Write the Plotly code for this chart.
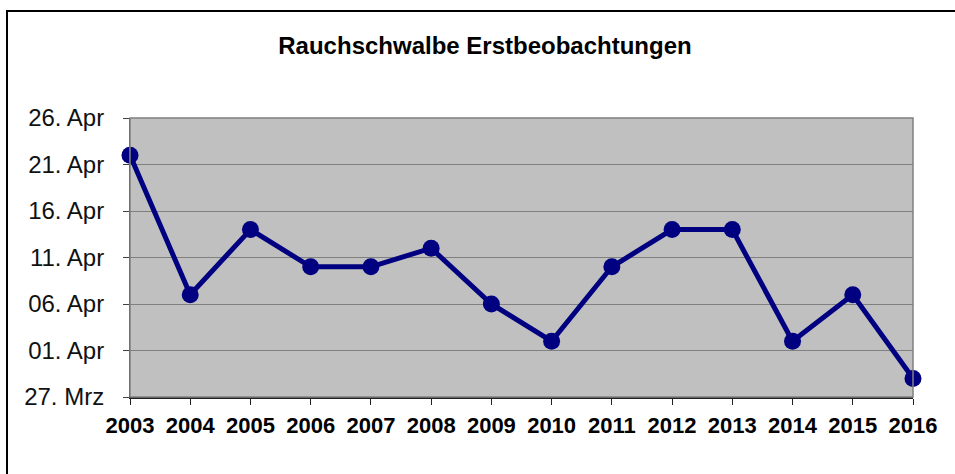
import plotly.graph_objects as go

years = [2003, 2004, 2005, 2006, 2007, 2008, 2009, 2010, 2011, 2012, 2013, 2014, 2015, 2016]
first_seen = ["04-22", "04-07", "04-14", "04-10", "04-10", "04-12", "04-06",
              "04-02", "04-10", "04-14", "04-14", "04-02", "04-07", "03-29"]
y_tick_days = ["03-27", "04-01", "04-06", "04-11", "04-16", "04-21", "04-26"]
y_tick_labels = ["27. Mrz", "01. Apr", "06. Apr", "11. Apr", "16. Apr", "21. Apr", "26. Apr"]
title_text = "Rauchschwalbe Erstbeobachtungen"

ref_year = "2000-"
y_dates = [ref_year + d for d in first_seen]
tick_dates = [ref_year + d for d in y_tick_days]

W, H = 955, 474
L, R, T, B = 130, 42, 118, 77
pw, ph = W - L - R, H - T - B

fig = go.Figure()
fig.add_trace(go.Scatter(
    x=years, y=y_dates, mode="lines+markers",
    line=dict(color="#000080", width=5),
    marker=dict(color="#000080", size=17),
    cliponaxis=False, showlegend=False,
))

font_family = "Liberation Sans, Arial, sans-serif"
fig.update_layout(
    width=W, height=H,
    margin=dict(l=L, r=R, t=T, b=B),
    paper_bgcolor="white", plot_bgcolor="#c0c0c0",
    font=dict(family=font_family, color="black"),
    title=dict(text="<b>" + title_text + "</b>", x=485 / W, xanchor="center",
               y=1 - 46 / H, yanchor="middle",
               font=dict(size=24, family=font_family, color="black")),
    xaxis=dict(range=[years[0], years[-1]], tickvals=years,
               ticktext=["<b>%d</b>" % y for y in years],
               tickfont=dict(size=22, family=font_family, color="black"),
               showgrid=False, zeroline=False,
               showline=True, linecolor="#202020", linewidth=1.5, mirror=False,
               ticks="outside", ticklen=6, tickcolor="#202020", tickwidth=1,
               ticklabelstandoff=2),
    yaxis=dict(type="date", range=[tick_dates[0], tick_dates[-1]],
               tickvals=tick_dates, ticktext=y_tick_labels,
               tickfont=dict(size=24, family=font_family, color="#111111"),
               showgrid=True, gridcolor="#808080", gridwidth=1,
               zeroline=False, showline=True, linecolor="#404040", linewidth=1,
               ticks="outside", ticklen=6, tickcolor="#404040", tickwidth=1,
               ticklabelstandoff=14),
)

# right/top gray plot-area border
fig.add_shape(type="rect", xref="paper", yref="paper", x0=0, y0=0, x1=1, y1=1,
              line=dict(color="#808080", width=1.5), layer="above")
# outer chart frame
fig.add_shape(type="rect", xref="paper", yref="paper",
              x0=(7 - L) / pw, y0=(H - B - 490) / ph,
              x1=(970 - L) / pw, y1=(H - B - 11) / ph,
              line=dict(color="black", width=2), layer="above")

fig.write_html("out.html", config={"displayModeBar": False},
               post_script="document.body.style.margin='0px';")
